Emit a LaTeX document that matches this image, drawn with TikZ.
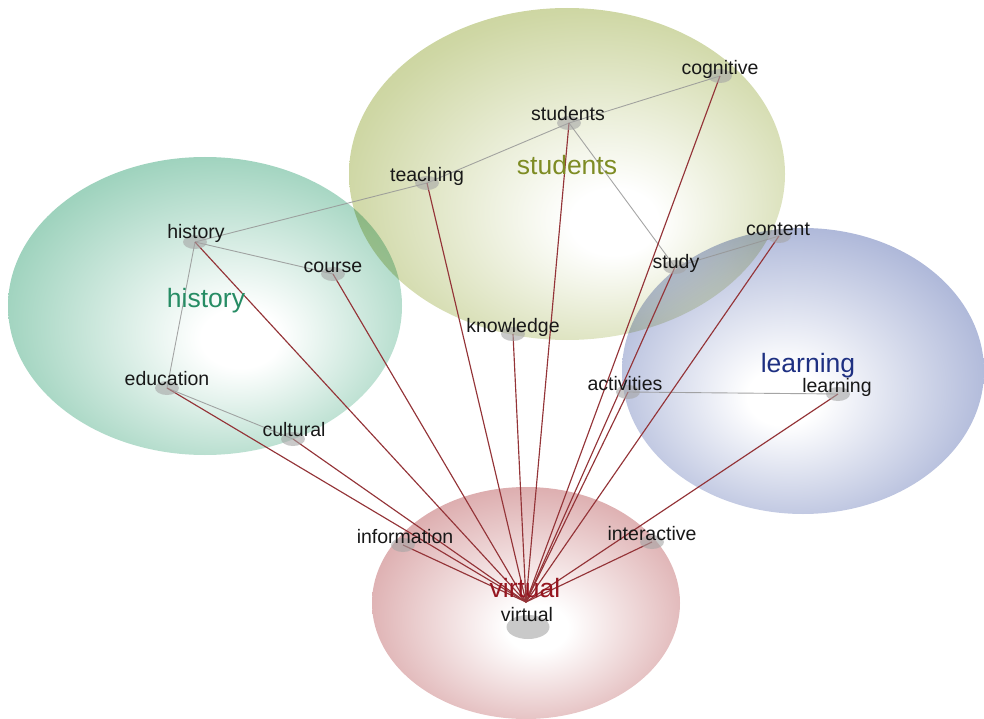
\documentclass[tikz,border=0pt]{standalone}
\usepackage{fontspec}
\setmainfont{Liberation Sans}
\usetikzlibrary{shapes.geometric}

% cluster colours
\definecolor{histC}{RGB}{118,192,162}
\definecolor{studC}{RGB}{186,198,126}
\definecolor{learnC}{RGB}{138,152,200}
\definecolor{virtC}{RGB}{206,138,140}
% text and edge colours
\definecolor{histT}{RGB}{38,140,100}
\definecolor{studT}{RGB}{126,140,36}
\definecolor{learnT}{RGB}{30,48,130}
\definecolor{virtT}{RGB}{150,22,32}
\definecolor{wordT}{RGB}{24,24,24}
\definecolor{linkR}{RGB}{148,52,56}
\definecolor{linkG}{RGB}{150,150,150}
\definecolor{dotC}{RGB}{165,165,165}

% soft radial fills, white towards the middle
\pgfdeclareradialshading{histshade}{\pgfpoint{5bp}{-6bp}}{color(0bp)=(white); color(5bp)=(white); color(28bp)=(histC!70!white); color(44bp)=(histC); color(50bp)=(histC)}
\pgfdeclareradialshading{studshade}{\pgfpoint{6bp}{-8bp}}{color(0bp)=(white); color(5bp)=(white); color(28bp)=(studC!70!white); color(44bp)=(studC); color(50bp)=(studC)}
\pgfdeclareradialshading{learnshade}{\pgfpoint{-3bp}{-5bp}}{color(0bp)=(white); color(5bp)=(white); color(28bp)=(learnC!70!white); color(44bp)=(learnC); color(50bp)=(learnC)}
\pgfdeclareradialshading{virtshade}{\pgfpoint{2bp}{-6bp}}{color(0bp)=(white); color(5bp)=(white); color(28bp)=(virtC!70!white); color(44bp)=(virtC); color(50bp)=(virtC)}

\tikzset{
  wdot/.style={ellipse, fill=dotC, fill opacity=0.6, inner sep=0pt,
               minimum width=24bp, minimum height=14bp},
  word/.style={anchor=base, inner sep=0pt, text=wordT,
               font=\fontsize{19.5bp}{22bp}\selectfont},
  cluster/.style={anchor=base, inner sep=0pt,
               font=\fontsize{26.5bp}{30bp}\selectfont},
  redlink/.style={draw=linkR, line width=1.15bp},
  graylink/.style={draw=linkG, line width=0.9bp, draw opacity=0.85},
}

\begin{document}
\begin{tikzpicture}[x=1bp, y=-1bp]
\useasboundingbox (0,0) rectangle (984,719);

% cluster areas
\begin{scope}[blend mode=multiply]
  \shade[shading=histshade]  (205,306) ellipse [x radius=197, y radius=149];
  \shade[shading=studshade]  (567,174) ellipse [x radius=218, y radius=166];
  \shade[shading=learnshade] (803,371) ellipse [x radius=181, y radius=143];
  \shade[shading=virtshade]  (526,603) ellipse [x radius=154, y radius=116];
\end{scope}

% word positions
\coordinate (cognitive)   at (720,76);
\coordinate (students)    at (569,123);
\coordinate (teaching)    at (427,183);
\coordinate (study)       at (675,267);
\coordinate (content)     at (779,236);
\coordinate (knowledge)   at (513,334);
\coordinate (history)     at (195,242);
\coordinate (course)      at (333,274);
\coordinate (education)   at (167,388);
\coordinate (cultural)    at (293,439);
\coordinate (activities)  at (628,392);
\coordinate (learning)    at (838,394);
\coordinate (information) at (403,545);
\coordinate (interactive) at (652,542);
\coordinate (virtual)     at (528,627);
\coordinate (hub)         at (526,602);

% links inside the clusters
\draw[graylink] (history) -- (teaching);
\draw[graylink] (teaching) -- (students);
\draw[graylink] (students) -- (cognitive);
\draw[graylink] (students) -- (study);
\draw[graylink] (study) -- (content);
\draw[graylink] (history) -- (course);
\draw[graylink] (history) -- (education);
\draw[graylink] (education) -- (cultural);
\draw[graylink] (activities) -- (learning);

% links to the virtual cluster
\foreach \w in {history,course,education,cultural,information,teaching,
                knowledge,students,cognitive,study,content,activities,
                interactive,learning}
  \draw[redlink] (\w) -- (hub);

% word markers
\foreach \w in {cognitive,students,teaching,study,content,knowledge,history,
                course,education,cultural,activities,learning,information,
                interactive}
  \node[wdot] (\w-dot) at (\w) {};
\node[wdot, minimum width=43bp, minimum height=24bp] (virtual-dot) at (virtual) {};

% cluster titles
\node[cluster, text=studT]  (t-students) at (567,175) {students};
\node[cluster, text=histT]  (t-history)  at (206,307) {history};
\node[cluster, text=learnT] (t-learning) at (808,372) {learning};
\node[cluster, text=virtT]  (t-virtual)  at (525,597) {virtual};

% words
\node[word] (w-cognitive)   at (720,75)  {cognitive};
\node[word] (w-students)    at (568,121) {students};
\node[word] (w-teaching)    at (427,182) {teaching};
\node[word] (w-study)       at (676,268) {study};
\node[word] (w-content)     at (778,235) {content};
\node[word] (w-knowledge)   at (513,332) {knowledge};
\node[word] (w-history)     at (196,238) {history};
\node[word] (w-course)      at (333,272) {course};
\node[word] (w-education)   at (167,385) {education};
\node[word] (w-cultural)    at (294,436) {cultural};
\node[word] (w-activities)  at (625,390) {activities};
\node[word] (w-learning)    at (837,392) {learning};
\node[word] (w-information) at (405,543) {information};
\node[word] (w-interactive) at (652,540) {interactive};
\node[word] (w-virtual)     at (527,621) {virtual};
\end{tikzpicture}
\end{document}
